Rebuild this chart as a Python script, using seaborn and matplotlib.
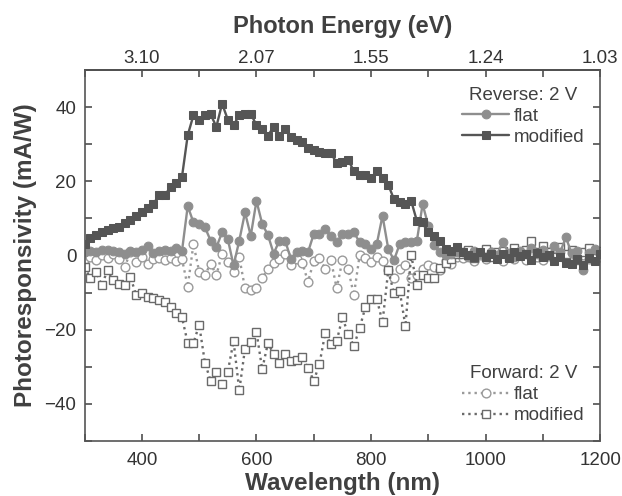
import matplotlib
matplotlib.use("Agg")
import matplotlib.pyplot as plt
from matplotlib.ticker import MultipleLocator
import pandas as pd
import seaborn as sns

# wavelength grid (nm)
wavelength = list(range(300, 1210, 10))

# reverse bias 2 V
rev_flat = [1.0, 1.3, 0.8, 1.5, 1.4, 1.2, 1.0, 0.4, 1.3, 0.9,
            1.5, 2.6, 0.6, 1.2, 1.6, 1.1, 2.0, 1.2, 13.3, 8.9,
            8.4, 7.6, 4.0, 2.2, 6.2, 4.4, -2.7, 4.0, 11.6, 5.3,
            14.7, 8.5, 5.5, 0.5, 4.0, 4.0, -0.9, 0.9, 1.3, 0.9,
            5.8, 5.8, 7.1, 5.3, 3.6, 5.8, 5.8, 6.2, 3.6, 3.1,
            1.8, 3.1, 10.7, 1.8, -1.3, 3.1, 3.6, 3.6, 4.0, 13.8,
            8.0, 2.7, 0.9, 0.0, 0.4, 1.0, 0.8, -0.3, 1.2, 0.4,
            -0.5, 1.0, 0.2, 3.7, 0.6, -0.4, 1.1, 0.3, 2.0, 0.5,
            1.5, -0.2, 2.5, 0.8, 4.9, 0.6, 1.2, -4.0, 0.7, 1.8,
            0.3]
rev_mod = [3.2, 4.6, 5.5, 6.2, 6.8, 7.4, 7.6, 8.7, 9.6, 10.5,
           11.6, 12.8, 13.9, 16.2, 16.2, 18.5, 19.6, 21.2, 32.4, 37.8,
           36.6, 37.8, 38.0, 34.7, 40.9, 36.6, 35.1, 37.8, 38.2, 38.2,
           35.1, 34.2, 32.3, 34.7, 32.1, 34.0, 32.0, 31.1, 30.7, 28.9,
           28.4, 28.0, 27.7, 27.6, 24.9, 25.3, 25.8, 22.7, 21.8, 21.8,
           20.9, 22.7, 20.9, 19.1, 15.1, 14.4, 13.8, 14.7, 9.3, 8.9,
           6.2, 5.3, 4.0, 1.8, 1.3, 2.2, 1.0, 0.2, -0.5, 0.8,
           -0.3, 0.5, -1.0, 0.3, -0.6, 0.9, -0.2, 0.4, -1.2, 0.6,
           -0.4, 0.2, -1.5, -0.3, -2.0, -2.2, -1.0, -2.5, -0.8, -1.6,
           0.5]

# forward bias 2 V
fwd_flat = [-0.9, -0.3, -1.2, 0.2, -0.6, 0.3, -1.0, -3.1, 0.9, -1.8,
            -0.4, -2.2, -1.0, -0.6, -1.3, -0.8, -1.5, -1.0, -8.4, 3.1,
            -4.4, -5.3, -2.2, -5.3, 0.4, -1.8, -4.4, -0.5, -8.9, -9.3,
            -8.9, -6.2, -3.6, -2.0, -1.0, 0.5, -2.5, -1.0, -2.0, -7.1,
            -1.5, -0.8, -3.6, -1.2, -8.9, -1.3, -3.6, -10.7, 0.0, -0.8,
            -1.8, -0.4, -1.5, -4.0, -6.0, -3.6, -2.5, -6.2, -5.3, -3.6,
            -2.5, -3.1, -4.0, -1.5, -2.2, -0.5, -0.8, 0.6, -1.5, 0.2,
            -1.0, 0.8, -0.6, -1.4, 0.5, -0.9, 0.3, -1.2, 0.7, -0.4,
            -1.1, 0.9, -0.5, 0.4, -1.3, 0.6, -0.7, 0.2, -1.0, 0.5,
            -0.3]
fwd_mod = [-3.1, -6.2, -4.4, -8.0, -4.0, -6.7, -7.6, -8.0, -5.8, -10.7,
           -10.2, -11.1, -11.6, -12.0, -12.6, -13.8, -15.6, -16.7, -23.6, -23.6,
           -18.7, -28.9, -33.8, -31.3, -34.7, -31.3, -23.1, -36.4, -25.1, -23.3,
           -20.6, -30.7, -23.6, -26.6, -28.9, -26.7, -28.4, -28.3, -27.4, -30.4,
           -33.8, -29.2, -20.9, -24.0, -23.1, -16.7, -21.2, -24.4, -19.6, -14.0,
           -11.7, -11.7, -18.0, -4.0, -10.2, -9.5, -19.1, 0.2, -8.0, -5.3,
           -6.2, -6.0, -3.5, -2.0, -1.0, 0.5, 0.3, 1.5, -0.8, 0.6,
           1.8, -0.5, 0.9, 1.2, -0.3, 2.0, 0.4, 1.6, 4.0, 0.8,
           2.6, 1.0, -0.4, 2.2, 0.5, 1.4, -1.2, 0.9, 2.0, -0.6,
           1.3]

top_ticks = [400, 600, 800, 1000, 1200]
top_labels = ["3.10", "2.07", "1.55", "1.24", "1.03"]

df = pd.DataFrame({"wavelength": wavelength, "rev_flat": rev_flat, "rev_mod": rev_mod,
                   "fwd_flat": fwd_flat, "fwd_mod": fwd_mod})

sns.set_theme(style="ticks")
plt.rcParams["font.family"] = ["Liberation Sans", "DejaVu Sans"]
ink = "#404040"

fig = plt.figure(figsize=(6.22, 4.96), dpi=100)
ax = fig.add_axes([0.136, 0.111, 0.829, 0.748])

ms = 6.3
sns.lineplot(data=df, x="wavelength", y="fwd_flat", ax=ax, color="#9a9a9a", linestyle=":",
             linewidth=1.7, marker="o", markersize=ms, markerfacecolor="white",
             markeredgecolor="#9a9a9a", markeredgewidth=1.0, label="flat", legend=False)
sns.lineplot(data=df, x="wavelength", y="fwd_mod", ax=ax, color="#6a6a6a", linestyle=":",
             linewidth=1.7, marker="s", markersize=ms, markerfacecolor="white",
             markeredgecolor="#6a6a6a", markeredgewidth=1.0, label="modified", legend=False)
sns.lineplot(data=df, x="wavelength", y="rev_flat", ax=ax, color="#8e8e8e",
             linewidth=1.7, marker="o", markersize=ms, markeredgecolor="#8e8e8e",
             label="flat", legend=False)
sns.lineplot(data=df, x="wavelength", y="rev_mod", ax=ax, color="#555555",
             linewidth=1.7, marker="s", markersize=ms, markeredgecolor="#555555",
             label="modified", legend=False)

ax.set_xlim(300, 1200)
ax.set_ylim(-50, 50)
ax.xaxis.set_major_locator(MultipleLocator(200))
ax.xaxis.set_minor_locator(MultipleLocator(100))
ax.yaxis.set_major_locator(MultipleLocator(20))
ax.yaxis.set_minor_locator(MultipleLocator(10))
ax.tick_params(which="both", direction="in", length=5, width=1.1, color=ink,
               labelsize=13.5, labelcolor="#333333", right=True, top=False, pad=6)
ax.tick_params(axis="x", which="both", pad=8)
for sp in ax.spines.values():
    sp.set_color("#555555")
    sp.set_linewidth(1.2)

ax.set_xlabel("Wavelength (nm)", fontsize=17.5, fontweight="bold", color=ink, labelpad=2)
ax.set_ylabel("Photoresponsivity (mA/W)", fontsize=17.5, fontweight="bold", color=ink, labelpad=5)

top = ax.secondary_xaxis("top")
top.set_xticks(top_ticks)
top.set_xticklabels(top_labels)
top.xaxis.set_minor_locator(MultipleLocator(100))
top.tick_params(which="both", direction="in", length=5, width=1.1, color=ink,
                labelsize=13.5, labelcolor="#333333", pad=2)
top.set_xlabel("Photon Energy (eV)", fontsize=17, fontweight="bold", color=ink, labelpad=12)

lines = ax.get_lines()
leg_opts = dict(frameon=False, fontsize=13.5, title_fontsize=13.5, handlelength=2.5,
                handletextpad=0.25, labelspacing=0.2, borderaxespad=0.3, labelcolor=ink)
leg1 = ax.legend(handles=[lines[2], lines[3]], labels=["flat", "modified"],
                 title="Reverse: 2 V", loc="upper right", bbox_to_anchor=(0.995, 0.99), **leg_opts)
leg1.get_title().set_color(ink)
ax.add_artist(leg1)
leg2 = ax.legend(handles=[lines[0], lines[1]], labels=["flat", "modified"],
                 title="Forward: 2 V", loc="lower right", bbox_to_anchor=(0.995, 0.01), **leg_opts)
leg2.get_title().set_color(ink)

fig.savefig("out.png", dpi=100)
